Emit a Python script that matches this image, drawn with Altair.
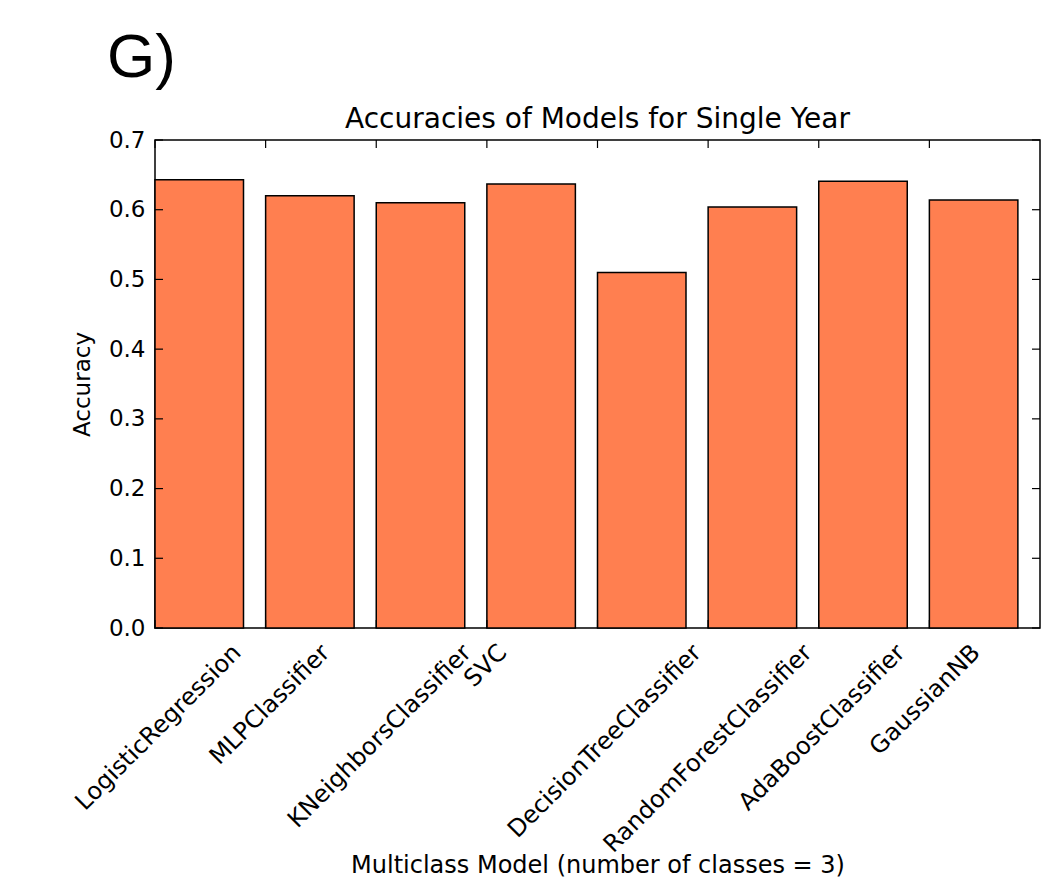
import altair as alt
import pandas as pd

models = ["LogisticRegression", "MLPClassifier", "KNeighborsClassifier", "SVC",
          "DecisionTreeClassifier", "RandomForestClassifier", "AdaBoostClassifier", "GaussianNB"]
accuracy = [0.643, 0.620, 0.610, 0.637, 0.510, 0.604, 0.641, 0.614]
y_ticks = [0.0, 0.1, 0.2, 0.3, 0.4, 0.5, 0.6, 0.7]
panel_label = ["G)"]
chart_title = ["Accuracies of Models for Single Year"]

W, H = 885, 488
PX_PER_UNIT = W / 8.0
FONT = "DejaVu Sans"

bars_df = pd.DataFrame({"model": models, "acc": accuracy, "pos": list(range(len(models)))})
xt_df = pd.DataFrame({"xt": list(range(len(models)))})
yt_df = pd.DataFrame({"yt": y_ticks})

xs = alt.Scale(domain=[0, 8], nice=False, zero=False)
ys = alt.Scale(domain=[0, 0.7], nice=False)

bars = alt.Chart(bars_df).transform_calculate(
    pos_end="datum.pos + 0.8"
).mark_bar(color="#FF7F50", stroke="black", strokeWidth=1.5).encode(
    x=alt.X("pos:Q", scale=xs,
            axis=alt.Axis(labels=False, ticks=False, domain=False, grid=False,
                          title="Multiclass Model (number of classes = 3)",
                          titleFont=FONT, titleFontSize=24, titleFontWeight="normal",
                          titleColor="black", titlePadding=225)),
    x2="pos_end:Q",
    y=alt.Y("acc:Q", scale=ys,
            axis=alt.Axis(values=y_ticks, format=".1f", tickSize=0, domain=False, grid=False,
                          labelFont=FONT, labelFontSize=23, labelColor="black", labelPadding=10,
                          title="Accuracy", titleFont=FONT, titleFontSize=23,
                          titleFontWeight="normal", titleColor="black", titlePadding=14)),
    y2=alt.datum(0),
)

labels = alt.Chart(bars_df).transform_calculate(
    lx=f"datum.pos + (4.41 * length(datum.model) + 8) / {PX_PER_UNIT}"
).mark_text(angle=315, align="right", baseline="alphabetic", font=FONT, fontSize=24,
            color="black").encode(
    x=alt.X("lx:Q", scale=xs),
    y=alt.value(H + 26),
    text="model:N",
)

xticks_top = alt.Chart(xt_df).mark_rule(color="black", strokeWidth=1.2).encode(
    x=alt.X("xt:Q", scale=xs), y=alt.value(0), y2=alt.value(8))
xticks_bot = alt.Chart(xt_df).mark_rule(color="black", strokeWidth=1.2).encode(
    x=alt.X("xt:Q", scale=xs), y=alt.value(H - 8), y2=alt.value(H))
yticks_left = alt.Chart(yt_df).mark_rule(color="black", strokeWidth=1.2).encode(
    y=alt.Y("yt:Q", scale=ys), x=alt.value(0), x2=alt.value(8))
yticks_right = alt.Chart(yt_df).mark_rule(color="black", strokeWidth=1.2).encode(
    y=alt.Y("yt:Q", scale=ys), x=alt.value(W - 8), x2=alt.value(W))

glabel = alt.Chart(pd.DataFrame({"t": panel_label})).mark_text(
    align="left", baseline="alphabetic", font="Liberation Sans", fontSize=62, color="black"
).encode(text="t:N", x=alt.value(-48), y=alt.value(-63))

title_text = alt.Chart(pd.DataFrame({"t": chart_title})).mark_text(
    align="center", baseline="alphabetic", font=FONT, fontSize=28, color="black"
).encode(text="t:N", x=alt.value(W / 2), y=alt.value(-12))

chart = alt.layer(bars, labels, xticks_top, xticks_bot, yticks_left, yticks_right,
                  glabel, title_text).properties(
    width=W, height=H,
    autosize=alt.AutoSizeParams(type="none"),
    padding={"left": 147, "top": 132, "right": 4, "bottom": 252},
).configure_view(stroke="black", strokeWidth=1.5)

chart.save("out.html", embed_options={"renderer": "svg", "actions": False})
